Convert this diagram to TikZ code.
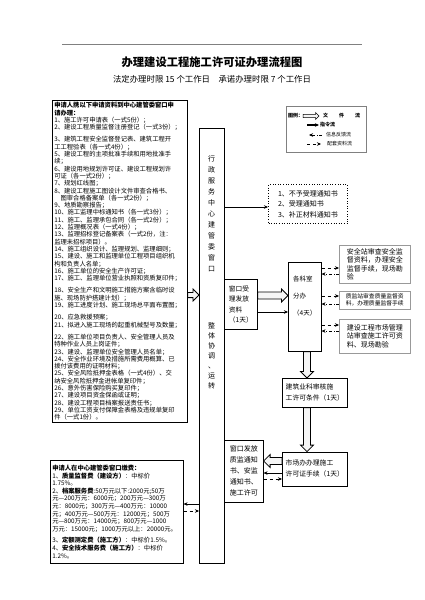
\documentclass[tikz,border=0pt]{standalone}
\usepackage{fontspec}
\setmainfont{Noto Sans CJK SC}
\usetikzlibrary{arrows.meta, positioning, calc}

\begin{document}
\begin{tikzpicture}[x=1pt, y=-1pt,
    box/.style={rectangle, draw, line width=0.6pt, inner sep=2pt, align=left, anchor=north west},
    sidebox/.style={box, draw=gray!80, line width=0.5pt},
    small/.style={font={\fontsize{6.3}{7.3}\selectfont}},
    tiny/.style={font={\fontsize{5}{6}\selectfont}, inner sep=0pt, anchor=west},
    vtext/.style={font={\fontsize{7}{11}\selectfont}, align=center, inner sep=0pt, anchor=north},
    flow/.style={line width=0.5pt, -{Stealth[length=4pt, width=3.5pt]}},
    data/.style={line width=0.5pt, dashed, -{Stealth[length=4pt, width=3.5pt]}},
    back/.style={line width=0.5pt, dash dot, -{Stealth[length=4pt, width=3.5pt]}},
    filearrow/.style 2 args={draw=black, fill=gray!8, line width=0.8pt, solid, line join=miter, to path={
        let \p1=(\tikztostart), \p2=(\tikztotarget), \p3=($(\p2)!#2!(\p1)$) in
        ($(\p1)!#1!90:(\p2)$) -- ($(\p3)!#1!-90:(\p1)$) -- ($(\p3)!#2!-90:(\p1)$) -- (\p2)
        -- ($(\p3)!#2!90:(\p1)$) -- ($(\p3)!#1!90:(\p1)$) -- ($(\p1)!#1!-90:(\p2)$) -- cycle}}]
    \useasboundingbox (0,0) rectangle (424,600);
    \draw[gray, line width=0.4pt] (62,44) -- (362,44);
    \node[font={\fontsize{11.3}{13}\selectfont\bfseries}] (title) at (212,62) {办理建设工程施工许可证办理流程图};
    \node[font={\fontsize{8.4}{10}\selectfont}] (subtitle) at (212,79) {法定办理时限 15 个工作日　承诺办理时限 7 个工作日};

    \node[box, small, text width=131pt, minimum height=322pt] (req) at (52,100) {\textbf{申请人携以下申请资料到中心建管委窗口申}\\
    \textbf{请办理：}\\
    1、施工许可申请表（一式5份）；\\
    2、建设工程质量监督注册登记（一式3份）；\\[5pt]
    3、建筑工程安全监督登记表、建筑工程开\\
    工工程验表（各一式4份）；\\
    5、建设工程的主项批准手续和用地批准手\\
    续；\\
    6、建设用地规划许可证、建设工程规划许\\
    可证（各一式2份）；\\
    7、规划红线图；\\
    8、建设工程施工图设计文件审查合格书、\\
    \hspace*{1em}图审合格备案单（各一式2份）；\\
    9、地质勘察报告；\\
    10、施工监理中标通知书（各一式3份）；\\
    11、施工、监理承包合同（各一式2份）；\\
    12、监理概况表（一式4份）；\\
    13、监理招标登记备案表（一式2份，注：\\
    监理未招标项目）。\\
    14、施工组织设计、监理规划、监理细则；\\
    15、建设、施工和监理单位工程项目组织机\\
    构和负责人名单；\\
    16、施工单位的安全生产许可证；\\
    17、施工、监理单位营业执照和资质复印件；\\[5pt]
    18、安全生产和文明施工措施方案含临时设\\
    施、现场防护搭建计划）；\\
    19、施工进度计划、施工现场总平面布置图；\\[5pt]
    20、应急救援预案；\\
    21、拟进入施工现场的起重机械型号及数量；\\[5pt]
    22、施工单位项目负责人、安全管理人员及\\
    特种作业人员上岗证件；\\
    23、建设、监理单位安全管理人员名单；\\
    24、安全作业环境及措施所需费用概算、已\\
    拨付该费用的证明材料；\\
    25、安全风险抵押金表格（一式4份）、交\\
    纳安全风险抵押金进帐单复印件；\\
    26、意外伤害保险购买复印件；\\
    27、建设项目资金保函或证明；\\
    28、建设工程项目档案报送责任书；\\
    29、单位工资支付保障金表格及违规单复印\\
    件（一式1份）。};

    \node[box, font={\fontsize{6.3}{7.6}\selectfont}, text width=129pt, minimum height=103pt] (fee) at (50,460) {\textbf{申请人在中心建管委窗口缴费：}\\
    1、\textbf{质量监督费（建设方）}：中标价\\
    1.75\%。\\
    2、\textbf{档案服务费}:50万元以下:2000元;50万\\
    元—200万元：6000元；200万元—300万\\
    元：8000元；300万元—400万元：10000\\
    元；400万元—500万元：12000元；500万\\
    元—800万元：14000元；800万元—1000\\
    万元：15000元；1000万元以上：20000元。\\[4pt]
    3、\textbf{定额测定费（施工方）}：中标价1.5\%。\\
    4、\textbf{安全技术服务费（施工方）}：中标价\\
    1.2\%。};

    \node[box, line width=0.9pt, minimum width=25pt, minimum height=435pt] (hub) at (199,128) {};
    \node[vtext] (hubtop) at (211.5,155) {行\\政\\服\\务\\中\\心\\建\\管\\委\\窗\\口};
    \node[vtext, font={\fontsize{7}{10}\selectfont}] (hubbot) at (211.5,322) {整\\体\\协\\调\\、\\运\\转};

    \node[box, dotted, line width=1pt, minimum width=79pt, minimum height=39pt, font={\fontsize{7}{10.5}\selectfont}] (notice) at (268,184) {1、不予受理通知书\\2、受理通知书\\3、补正材料通知书};

    \node[box, draw=gray, line width=0.4pt, minimum width=80pt, minimum height=46pt] (legend) at (286,106) {};
    \node[tiny] (lgtitle) at (288,116) {\textbf{图例：}};
    \coordinate (lg1a) at (303,116);
    \coordinate (lg1b) at (319,116);
    \node[tiny] (lgfile) at (323,116) {\textbf{文\hspace{11pt}件\hspace{11pt}流}};
    \coordinate (lg2a) at (307,125);
    \coordinate (lg2b) at (319,125);
    \draw[flow, line width=1.2pt] (lg2a) -- (lg2b);
    \node[tiny] (lgorder) at (320,125) {\textbf{指令流}};
    \coordinate (lg3a) at (309,135);
    \coordinate (lg3b) at (322,135);
    \draw[back] (lg3b) -- (lg3a);
    \node[tiny] (lgback) at (326,135) {信息反馈流};
    \coordinate (lg4a) at (307,144);
    \coordinate (lg4b) at (321,144);
    \draw[data] (lg4a) -- (lg4b);
    \node[tiny] (lgdata) at (327,144) {配套资料流};

    \node[box, minimum width=33pt, minimum height=50pt, font={\fontsize{6.7}{10.5}\selectfont}] (win) at (224,279) {窗口受\\理发放\\资料\\（1天）};
    \node[box, minimum width=33pt, minimum height=89pt, text depth=22pt, font={\fontsize{6.5}{17}\selectfont}] (dept) at (288,262) {各科室\\分办\\（4天）};

    \node[sidebox, minimum width=71pt, minimum height=38pt, font={\fontsize{7}{8.4}\selectfont}] (safety) at (339,245) {安全站审查安全监\\督资料，办理安全\\监督手续，现场勘\\验};
    \node[sidebox, minimum width=71pt, minimum height=18pt, font={\fontsize{5.8}{7}\selectfont}, below=7pt of safety] (quality) {质监站审查质量监督资\\料，办理质量监督手续};
    \node[sidebox, minimum width=71pt, minimum height=34pt, font={\fontsize{7}{8.5}\selectfont}, below=10pt of quality] (mgmt) {建设工程市场管理\\站审查施工许可资\\料、现场勘验};

    \node[box, minimum width=65pt, minimum height=29pt, font={\fontsize{6.8}{11}\selectfont}] (build) at (282,378) {建筑业科审核施\\工许可条件（1天）};
    \node[box, minimum width=65pt, minimum height=34pt, font={\fontsize{6.8}{11}\selectfont}, below=44pt of build] (permit) {市场办办理施工\\许可证手续（1天）};
    \node[box, minimum width=39pt, minimum height=62pt, font={\fontsize{7}{11}\selectfont}] (issue) at (224,440) {窗口发放\\质监通知\\书、安监\\通知书、\\施工许可};

    \draw[flow] (hub.east |- 0,207) -- (notice.west |- 0,207);
    \draw[flow] (win.east |- 0,312) -- (dept.west |- 0,312);
    \draw[data] (dept.east |- 0,268) -- (safety.west |- 0,268);
    \draw[back] (safety.west |- 0,274) -- (dept.east |- 0,274);
    \draw[data] (dept.east |- 0,296) -- (quality.west |- 0,296);
    \draw[back] (quality.west |- 0,304) -- (dept.east |- 0,304);
    \draw[data] (dept.east |- 0,325) -- (mgmt.west |- 0,325);
    \draw[back] (mgmt.west |- 0,331) -- (dept.east |- 0,331);
    \draw[flow] (permit.west |- 0,473) -- (issue.east |- 0,473);
    \draw[data] (issue.east |- 0,479) -- (permit.west |- 0,479);
    \draw[flow] (hub.west |- 0,504) -- (fee.east |- 0,504);
    \draw[data] (fee.east |- 0,511) -- (hub.west |- 0,511);

    \draw[filearrow={2.6pt}{6pt}] (req.east |- 0,295) to (hub.west |- 0,295);
    \draw[filearrow={3.5pt}{6.5pt}] (win.east |- 0,295.5) to (dept.west |- 0,295.5);
    \draw[filearrow={3.5pt}{6.5pt}] (307,0 |- dept.south) to (307,0 |- build.north);
    \draw[filearrow={3.5pt}{6.5pt}] (307,0 |- build.south) to (307,0 |- permit.north);
    \draw[filearrow={3.5pt}{6.5pt}] (permit.west |- 0,461) to (issue.east |- 0,461);
    \draw[filearrow={1.6pt}{3.4pt}, line width=0.5pt] (lg1a) to (lg1b);
\end{tikzpicture}
\end{document}
